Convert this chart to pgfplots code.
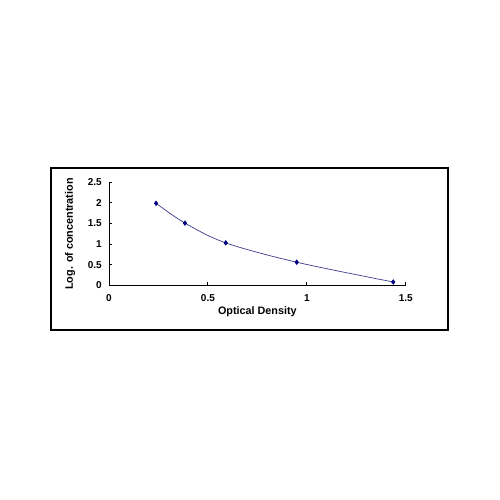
\documentclass[border=0pt]{standalone}
\usepackage{pgfplots}
\pgfplotsset{compat=1.18}
\usepackage{fontspec}
\setmainfont{Liberation Sans}
\definecolor{navy}{RGB}{0,0,128}
\definecolor{curve}{RGB}{60,60,140}
\begin{document}
\begin{tikzpicture}[x=1pt,y=1pt]
\path[fill=white] (0,0) rectangle (500,500);
\draw[line width=1.1pt] (51,170) rectangle (448,332);
\begin{axis}[
  at={(109pt,214.7pt)}, anchor=south west,
  scale only axis, width=296.7pt, height=103pt,
  xmin=0, xmax=1.5, ymin=0, ymax=2.5,
  axis lines=left, axis line style={-, line width=0.9pt},
  xtick={0,0.5,1,1.5}, ytick={0,0.5,1,1.5,2,2.5},
  tick align=inside, major tick length=3pt,
  tick style={line width=0.9pt, black},
  /pgf/number format/assume math mode=true,
  ticklabel style={font=\fontsize{10}{11}\selectfont\bfseries, inner sep=0pt},
  xticklabel style={anchor=center, yshift=-13pt},
  yticklabel style={anchor=east, xshift=-7pt},
  xlabel={Optical Density}, ylabel={Log. of concentration},
  label style={font=\fontsize{10.8}{12}\selectfont\bfseries},
  xlabel style={at={(axis description cs:0.5,-0.256)}, anchor=center},
  ylabel style={at={(axis description cs:-0.131,0.498)}, anchor=center, rotate=0},
  clip=false,
]
\addplot[curve, line width=0.7pt, smooth, tension=0.55, mark=diamond*, mark size=2.2pt, mark options={navy, fill=navy}]
coordinates {(0.238,1.99) (0.384,1.51) (0.59,1.03) (0.949,0.56) (1.437,0.08)};
\end{axis}
\end{tikzpicture}
\end{document}
